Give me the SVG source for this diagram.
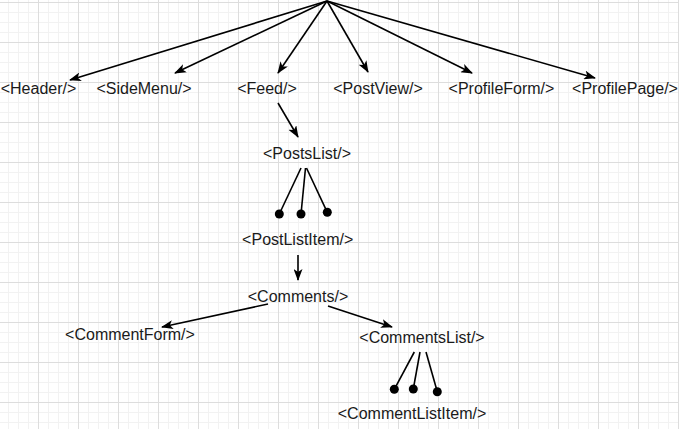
<svg xmlns="http://www.w3.org/2000/svg" width="679" height="429" viewBox="0 0 679 429">
<style>
.lbl{font-family:"Liberation Sans",Arial,sans-serif;font-size:16px;fill:#1a1a1a;text-anchor:middle}
.edge{stroke:#000;stroke-width:1.6;fill:none}
.dot{fill:#000}
</style>
<defs>
<pattern id="minor" patternUnits="userSpaceOnUse" x="8" y="2" width="10" height="10">
<rect x="0" y="0" width="10" height="1" fill="#f2f2f2"/>
<rect x="0" y="0" width="1" height="10" fill="#f2f2f2"/>
</pattern>
<pattern id="major" patternUnits="userSpaceOnUse" x="38" y="2" width="40" height="40">
<rect x="0" y="0" width="40" height="1" fill="#dddddd"/>
<rect x="0" y="0" width="1" height="40" fill="#dddddd"/>
</pattern>
<marker id="arr" viewBox="0 0 12 9" refX="11" refY="4.5" markerWidth="12" markerHeight="9" markerUnits="userSpaceOnUse" orient="auto">
<path d="M0,0 L12,4.5 L0,9 L3,4.5 Z" fill="#000"/>
</marker>
</defs>
<rect width="679" height="429" fill="#fff"/>
<rect width="679" height="429" fill="url(#minor)"/>
<rect width="679" height="429" fill="url(#major)"/>

<g id="connectors">
<line class="edge" x1="327" y1="1" x2="70" y2="80" marker-end="url(#arr)"/>
<line class="edge" x1="327" y1="1" x2="175" y2="73" marker-end="url(#arr)"/>
<line class="edge" x1="327" y1="1" x2="278" y2="73" marker-end="url(#arr)"/>
<line class="edge" x1="327" y1="1" x2="368" y2="72" marker-end="url(#arr)"/>
<line class="edge" x1="327" y1="1" x2="472" y2="73" marker-end="url(#arr)"/>
<line class="edge" x1="327" y1="1" x2="595" y2="78" marker-end="url(#arr)"/>
<line class="edge" x1="278" y1="103" x2="298" y2="137" marker-end="url(#arr)"/>
<line class="edge" x1="301" y1="168" x2="279.3" y2="214"/>
<line class="edge" x1="305.5" y1="168" x2="301" y2="214"/>
<line class="edge" x1="306.5" y1="168" x2="327.3" y2="212.3"/>
<circle class="dot" cx="279.3" cy="214" r="4.5"/>
<circle class="dot" cx="301" cy="214" r="4.5"/>
<circle class="dot" cx="327.3" cy="212.3" r="4.5"/>
<line class="edge" x1="298" y1="255" x2="298" y2="280" marker-end="url(#arr)"/>
<line class="edge" x1="268" y1="304" x2="162" y2="327" marker-end="url(#arr)"/>
<line class="edge" x1="328" y1="306" x2="392" y2="327" marker-end="url(#arr)"/>
<line class="edge" x1="414.3" y1="352" x2="394.3" y2="389.3"/>
<line class="edge" x1="420" y1="352" x2="413.3" y2="389"/>
<line class="edge" x1="426" y1="352" x2="437.3" y2="391.7"/>
<circle class="dot" cx="394.3" cy="389.3" r="4.5"/>
<circle class="dot" cx="413.3" cy="389" r="4.5"/>
<circle class="dot" cx="437.3" cy="391.7" r="4.5"/>
</g>

<g id="header"><text class="lbl" x="38.5" y="94">&lt;Header/&gt;</text></g>
<g id="sidemenu"><text class="lbl" x="144" y="94">&lt;SideMenu/&gt;</text></g>
<g id="feed"><text class="lbl" x="267" y="94">&lt;Feed/&gt;</text></g>
<g id="postview"><text class="lbl" x="378" y="94">&lt;PostView/&gt;</text></g>
<g id="profileform"><text class="lbl" x="501.5" y="94">&lt;ProfileForm/&gt;</text></g>
<g id="profilepage"><text class="lbl" x="625" y="94">&lt;ProfilePage/&gt;</text></g>
<g id="postslist"><text class="lbl" x="307" y="159">&lt;PostsList/&gt;</text></g>
<g id="postlistitem"><text class="lbl" x="297.7" y="245">&lt;PostListItem/&gt;</text></g>
<g id="comments"><text class="lbl" x="298" y="302">&lt;Comments/&gt;</text></g>
<g id="commentform"><text class="lbl" x="130" y="340">&lt;CommentForm/&gt;</text></g>
<g id="commentslist"><text class="lbl" x="422" y="343">&lt;CommentsList/&gt;</text></g>
<g id="commentlistitem"><text class="lbl" x="412" y="419">&lt;CommentListItem/&gt;</text></g>
</svg>
